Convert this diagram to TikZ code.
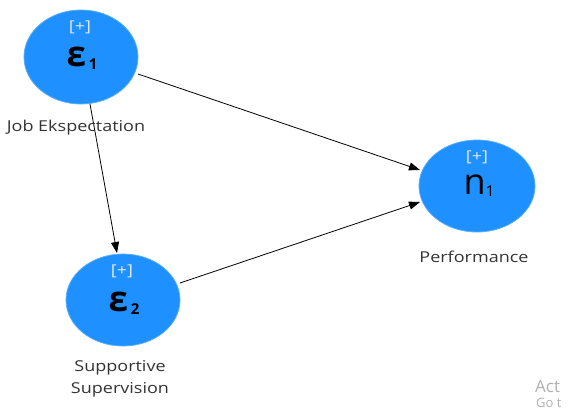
\documentclass[tikz,border=0pt]{standalone}
\usepackage{fontspec}
\setmainfont{Open Sans}
\usetikzlibrary{arrows.meta}
\definecolor{lvblue}{HTML}{1E90FF}
\definecolor{lvedge}{HTML}{5AAEF5}
\definecolor{plusc}{HTML}{E2E8FF}
\definecolor{wmark}{HTML}{B0B0B0}
\newcommand{\wide}[1]{\scalebox{1.2}[1]{#1}}
\begin{document}
\begin{tikzpicture}[x=1pt,y=-1pt,
  plus/.style={text=plusc, font=\fontsize{15}{15}\selectfont, inner sep=0pt},
  sym/.style={text=black, inner sep=0pt},
  lab/.style={text=black!80, font=\fontsize{15}{22}\selectfont, align=center, inner sep=0pt},
  link/.style={draw=black, line width=0.8pt, -{Triangle[length=11pt,width=8pt]}}]
\useasboundingbox (0,0) rectangle (570,412);
% ellipses
\draw[fill=lvblue, draw=lvedge, line width=0.8pt] (81,57) ellipse [x radius=57, y radius=47];
\draw[fill=lvblue, draw=lvedge, line width=0.8pt] (123,300) ellipse [x radius=57, y radius=46];
\draw[fill=lvblue, draw=lvedge, line width=0.8pt] (477,186) ellipse [x radius=58, y radius=46];
% anchor points on ellipse borders
\coordinate (a1r) at (138,74);
\coordinate (a1b) at (90,104);
\coordinate (a2t) at (117,253);
\coordinate (a2r) at (180,283);
\coordinate (a3a) at (420,170);
\coordinate (a3b) at (420,202);
\path[link] (a1r) -- (a3a);
\path[link] (a1b) -- (a2t);
\path[link] (a2r) -- (a3b);
% texts in ellipses
\node[plus] (p1) at (80,27) {\wide{[+]}};
\node[plus] (p2) at (122,271) {\wide{[+]}};
\node[plus] (p3) at (477,157) {\wide{[+]}};
\node[sym] (s1) at (82,58) {\fontsize{35}{35}\selectfont\bfseries ε\hspace{3pt}\raisebox{-3pt}{\fontsize{15}{15}\selectfont 1}};
\node[sym] (s2) at (124,303) {\fontsize{35}{35}\selectfont\bfseries ε\hspace{3pt}\raisebox{-3pt}{\fontsize{15}{15}\selectfont 2}};
\node[sym] (s3) at (479,186) {\fontsize{36}{36}\selectfont n\raisebox{-2pt}{\fontsize{15}{15}\selectfont 1}};
% labels
\node[lab] (l1) at (76,128) {\wide{Job Ekspectation}};
\node[lab] (l2a) at (120,368) {\wide{Supportive}};
\node[lab] (l2b) at (120,390) {\wide{Supervision}};
\node[lab] (l3) at (474,257) {\wide{Performance}};
% watermark
\node[text=wmark, anchor=west, inner sep=0pt, font=\fontsize{17}{17}\selectfont] (w1) at (535,386) {Act};
\node[text=wmark, anchor=west, inner sep=0pt, font=\fontsize{13}{13}\selectfont] (w2) at (536,403) {Go t};
\end{tikzpicture}
\end{document}
